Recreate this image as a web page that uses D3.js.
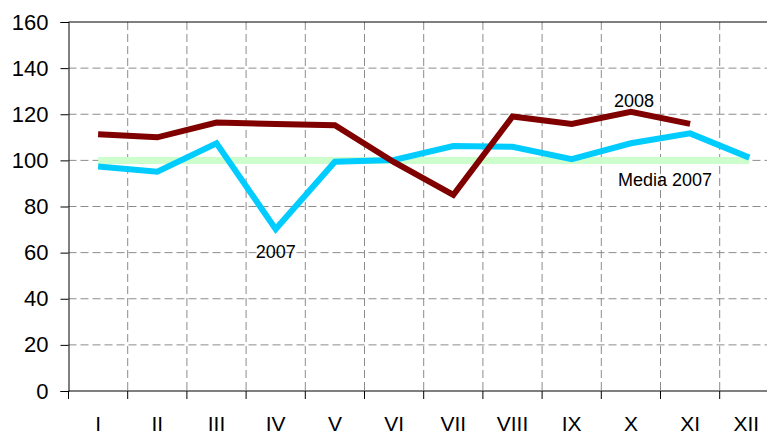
<!DOCTYPE html>
<html><head><meta charset="utf-8">
<script src="https://cdn.jsdelivr.net/npm/d3@7"></script>
<style>body{margin:0;background:#fff;}svg{display:block;font-family:"Liberation Sans",Arial,sans-serif;}</style>
</head><body>
<svg id="c" width="767" height="436"></svg>
<script>
const months = ["I","II","III","IV","V","VI","VII","VIII","IX","X","XI","XII"];
const values2007 = [97.3,95.1,107.4,70.2,99.4,100.2,106.2,105.9,100.5,107.4,111.7,101.2];
const values2008 = [111.3,110,116.4,115.8,115.2,99.2,85,119,115.8,121.1,115.8];
const media2007 = [100,100,100,100,100,100,100,100,100,100,100,100];
const yTicks = [0,20,40,60,80,100,120,140,160];

(function(){
const svg = d3.select("#c");
const pLeft = 68.5, pTop = 22, pBottom = 391, band = 59.2;
const x = d3.scaleBand().domain(months).range([pLeft, pLeft + band*12]).paddingInner(0).paddingOuter(0);
const y = d3.scaleLinear().domain([0,160]).range([pBottom, pTop]);
const cx = m => x(m) + x.bandwidth()/2;

// horizontal grid
svg.append("g").selectAll("line").data(yTicks.filter(t => t>0 && t<160)).join("line")
  .attr("x1", pLeft).attr("x2", pLeft + band*12)
  .attr("y1", d => y(d)).attr("y2", d => y(d))
  .attr("stroke", "#8c8c8c").attr("stroke-width", 1).attr("stroke-dasharray", "8,4");
// vertical grid
svg.append("g").selectAll("line").data(months.slice(1)).join("line")
  .attr("x1", d => x(d)).attr("x2", d => x(d))
  .attr("y1", pTop).attr("y2", pBottom)
  .attr("stroke", "#8c8c8c").attr("stroke-width", 1).attr("stroke-dasharray", "8,4");
// top border
svg.append("line").attr("x1", pLeft).attr("x2", pLeft + band*12).attr("y1", y(160)).attr("y2", y(160))
  .attr("stroke", "#000").attr("stroke-width", 1);

// y axis
const yAxis = d3.axisLeft(y).tickValues(yTicks).tickSize(8).tickPadding(12);
const gy = svg.append("g").attr("transform", `translate(${pLeft},0)`).call(yAxis);
gy.select(".domain").attr("stroke", "#000");
gy.selectAll(".tick line").attr("stroke", "#000");
gy.selectAll("text").attr("font-size", 22).attr("fill", "#000")
  .attr("font-family", "Liberation Sans, Arial, sans-serif");

// x axis
const xAxis = d3.axisBottom(x).tickSize(0).tickPadding(0);
const gx = svg.append("g").attr("transform", `translate(0,${pBottom})`).call(xAxis);
gx.select(".domain").remove();
gx.selectAll("text").attr("font-size", 21).attr("fill", "#000").attr("dy", null).attr("y", 40)
  .attr("dx", d => d === "XII" ? -3 : 0)
  .attr("font-family", "Liberation Sans, Arial, sans-serif");
svg.append("line").attr("x1", pLeft).attr("x2", pLeft + band*12).attr("y1", pBottom).attr("y2", pBottom)
  .attr("stroke", "#000").attr("stroke-width", 1.2);
svg.append("g").selectAll("line").data(months).join("line")
  .attr("x1", d => x(d)).attr("x2", d => x(d)).attr("y1", pBottom).attr("y2", pBottom + 8)
  .attr("stroke", "#000");

const line = d3.line().x((d,i) => cx(months[i])).y(d => y(d));

svg.append("path").datum(media2007).attr("d", line).attr("fill", "none")
  .attr("stroke", "#ccffcc").attr("stroke-width", 7);
svg.append("path").datum(values2007).attr("d", line).attr("fill", "none")
  .attr("stroke", "#00ccff").attr("stroke-width", 6).attr("stroke-linejoin", "miter");
svg.append("path").datum(values2008).attr("d", line).attr("fill", "none")
  .attr("stroke", "#800000").attr("stroke-width", 6).attr("stroke-linejoin", "miter");

// labels
const lab = (t, xx, yy) => svg.append("text").attr("x", xx).attr("y", yy).attr("text-anchor", "middle")
  .attr("font-size", 18).attr("fill", "#000").text(t);
lab("2007", cx("IV"), 258);
lab("2008", cx("X") + 3, 107);
lab("Media 2007", cx("XI") - 25, 186);
})();
</script>
</body></html>
